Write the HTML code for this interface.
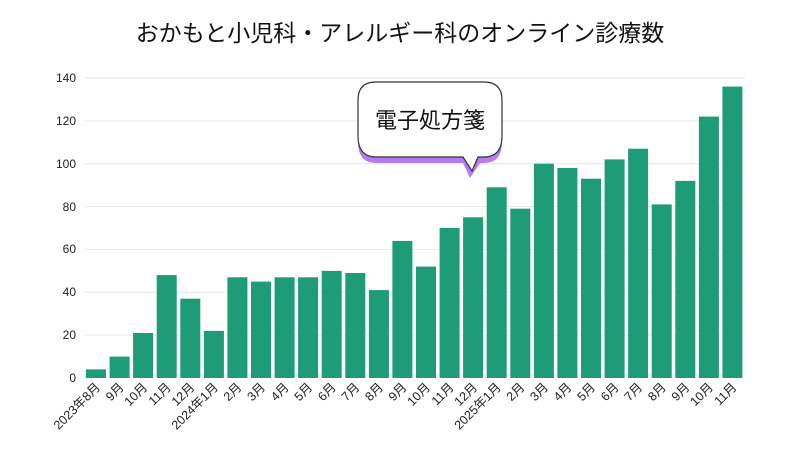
<!DOCTYPE html>
<html><head><meta charset="utf-8"><style>
body{margin:0;background:#fff}
svg{display:block;font-family:"Liberation Sans","Noto Sans CJK JP",sans-serif}
</style></head><body>
<svg width="800" height="450" viewBox="0 0 800 450">
<text x="400" y="41" text-anchor="middle" font-size="23" fill="#111">おかもと小児科・アレルギー科のオンライン診療数</text>
<g stroke="#e6e6e6" stroke-width="1">
<line x1="85" x2="745" y1="78" y2="78"/><line x1="85" x2="745" y1="120.9" y2="120.9"/>
<line x1="85" x2="745" y1="163.7" y2="163.7"/><line x1="85" x2="745" y1="206.6" y2="206.6"/>
<line x1="85" x2="745" y1="249.4" y2="249.4"/><line x1="85" x2="745" y1="292.3" y2="292.3"/>
<line x1="85" x2="745" y1="335.1" y2="335.1"/>
</g>
<g font-size="12" fill="#222" text-anchor="end">
<text x="76" y="82">140</text><text x="76" y="125">120</text><text x="76" y="168">100</text>
<text x="76" y="211">80</text><text x="76" y="253">60</text><text x="76" y="296">40</text>
<text x="76" y="339">20</text><text x="76" y="382">0</text>
</g>
<g fill="#1e9b77">
<rect x="86" y="369.4" width="20" height="8.6"/>
<rect x="109.6" y="356.6" width="20" height="21.4"/>
<rect x="133.1" y="333" width="20" height="45"/>
<rect x="156.7" y="275.1" width="20" height="102.9"/>
<rect x="180.3" y="298.7" width="20" height="79.3"/>
<rect x="203.9" y="330.9" width="20" height="47.1"/>
<rect x="227.4" y="277.3" width="20" height="100.7"/>
<rect x="251" y="281.6" width="20" height="96.4"/>
<rect x="274.6" y="277.3" width="20" height="100.7"/>
<rect x="298.1" y="277.3" width="20" height="100.7"/>
<rect x="321.7" y="270.9" width="20" height="107.1"/>
<rect x="345.3" y="273" width="20" height="105"/>
<rect x="368.9" y="290.1" width="20" height="87.9"/>
<rect x="392.4" y="240.9" width="20" height="137.1"/>
<rect x="416" y="266.6" width="20" height="111.4"/>
<rect x="439.6" y="228" width="20" height="150"/>
<rect x="463.1" y="217.3" width="20" height="160.7"/>
<rect x="486.7" y="187.3" width="20" height="190.7"/>
<rect x="510.3" y="208.7" width="20" height="169.3"/>
<rect x="533.9" y="163.7" width="20" height="214.3"/>
<rect x="557.4" y="168" width="20" height="210"/>
<rect x="581" y="178.7" width="20" height="199.3"/>
<rect x="604.6" y="159.4" width="20" height="218.6"/>
<rect x="628.1" y="148.7" width="20" height="229.3"/>
<rect x="651.7" y="204.4" width="20" height="173.6"/>
<rect x="675.3" y="180.9" width="20" height="197.1"/>
<rect x="698.9" y="116.6" width="20" height="261.4"/>
<rect x="722.4" y="86.6" width="20" height="291.4"/>
</g>
<g font-size="12.5" fill="#222" text-anchor="end">
<text transform="translate(101,388) rotate(-45)">2023年8月</text>
<text transform="translate(124.6,388) rotate(-45)">9月</text>
<text transform="translate(148.1,388) rotate(-45)">10月</text>
<text transform="translate(171.7,388) rotate(-45)">11月</text>
<text transform="translate(195.3,388) rotate(-45)">12月</text>
<text transform="translate(218.9,388) rotate(-45)">2024年1月</text>
<text transform="translate(242.4,388) rotate(-45)">2月</text>
<text transform="translate(266,388) rotate(-45)">3月</text>
<text transform="translate(289.6,388) rotate(-45)">4月</text>
<text transform="translate(313.1,388) rotate(-45)">5月</text>
<text transform="translate(336.7,388) rotate(-45)">6月</text>
<text transform="translate(360.3,388) rotate(-45)">7月</text>
<text transform="translate(383.9,388) rotate(-45)">8月</text>
<text transform="translate(407.4,388) rotate(-45)">9月</text>
<text transform="translate(431,388) rotate(-45)">10月</text>
<text transform="translate(454.6,388) rotate(-45)">11月</text>
<text transform="translate(478.1,388) rotate(-45)">12月</text>
<text transform="translate(501.7,388) rotate(-45)">2025年1月</text>
<text transform="translate(525.3,388) rotate(-45)">2月</text>
<text transform="translate(548.9,388) rotate(-45)">3月</text>
<text transform="translate(572.4,388) rotate(-45)">4月</text>
<text transform="translate(596,388) rotate(-45)">5月</text>
<text transform="translate(619.6,388) rotate(-45)">6月</text>
<text transform="translate(643.1,388) rotate(-45)">7月</text>
<text transform="translate(666.7,388) rotate(-45)">8月</text>
<text transform="translate(690.3,388) rotate(-45)">9月</text>
<text transform="translate(713.9,388) rotate(-45)">10月</text>
<text transform="translate(737.4,388) rotate(-45)">11月</text>
</g>
<path d="M376,89 H484 Q502,89 502,107 V142 Q502,163 484,163 H480 L470,178 L463,163 H376 Q358,163 358,142 V107 Q358,89 376,89 Z" fill="#b57bf5"/>
<path d="M376,82 H484 Q502,82 502,100 V136 Q502,157 484,157 H478 L472,171 L463,157 H376 Q358,157 358,136 V100 Q358,82 376,82 Z" fill="#fff" stroke="#333" stroke-width="1.2"/>
<text x="430" y="128" text-anchor="middle" font-size="22" fill="#111">電子処方箋</text>
</svg>
</body></html>
